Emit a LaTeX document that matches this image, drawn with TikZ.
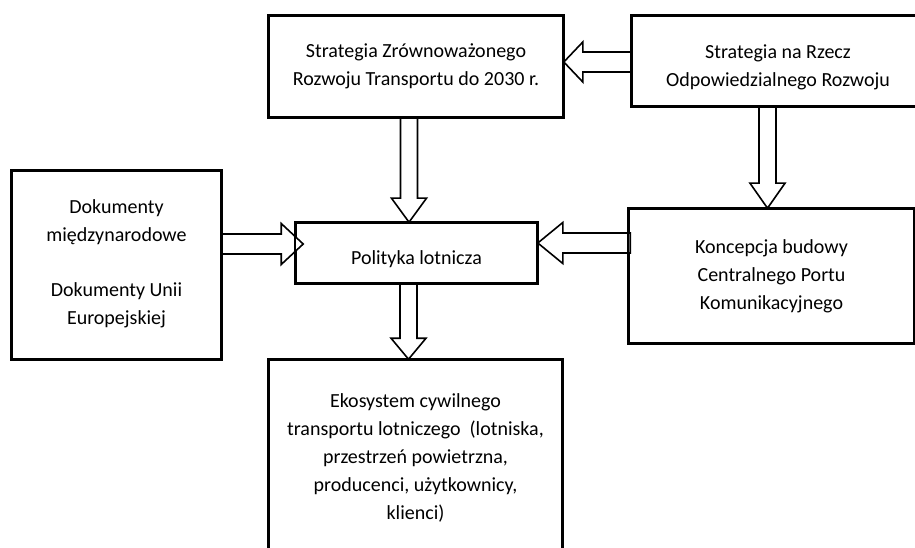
\documentclass[tikz,border=0pt]{standalone}
\usepackage{fontspec}
\setmainfont{Carlito}
\usetikzlibrary{calc}
\newcommand{\lowertext}[2]{\raisebox{-#1}[\height][\depth]{\begin{tabular}{@{}c@{}}#2\end{tabular}}}
\begin{document}
\begin{tikzpicture}[x=1pt,y=-1pt,
  box/.style={draw, line width=1.6pt, rectangle, inner sep=0pt, align=center,
    font=\fontsize{20}{28}\selectfont},
  barrow/.style={draw, line width=1.6pt, fill=white, line join=miter}]
\useasboundingbox (0,0) rectangle (915,548);
\fill[white] (0,0) rectangle (915,548);
\clip (0,0) rectangle (915,548);

% boxes
\node[box, minimum width=294pt, minimum height=101pt] (b1) at (416,66.5)
  {Strategia Zrównoważonego\\Rozwoju Transportu do 2030 r.};
\node[box, minimum width=292pt, minimum height=90pt] (b2) at (778,61)
  {\lowertext{6pt}{Strategia na Rzecz\\Odpowiedzialnego Rozwoju}};
\node[box, minimum width=209pt, minimum height=188pt] (b3) at (116.5,265)
  {\lowertext{-2pt}{Dokumenty\\międzynarodowe\\[27pt]Dokumenty Unii\\Europejskiej}};
\node[box, minimum width=241pt, minimum height=60pt] (pol) at (416.5,253)
  {\lowertext{6pt}{Polityka lotnicza}};
\node[box, minimum width=285pt, minimum height=134pt] (b5) at (771.5,276)
  {Koncepcja budowy\\Centralnego Portu\\Komunikacyjnego};
\node[box, minimum width=293pt, minimum height=190pt] (b6) at (415.5,455)
  {\lowertext{3pt}{Ekosystem cywilnego\\transportu lotniczego~ (lotniska,\\przestrzeń powietrzna,\\producenci, użytkownicy,\\klienci)}};

% block arrows
% b2 -> b1 (pointing left)
\coordinate (a1s) at (b2.west |- 0,62);
\coordinate (a1t) at (b1.east |- 0,62);
\draw[barrow] ($(a1s)+(0,-10)$) -- ($(a1t)+(19,-10)$) -- ($(a1t)+(19,-20)$) -- (a1t)
  -- ($(a1t)+(19,20)$) -- ($(a1t)+(19,10)$) -- ($(a1s)+(0,10)$) -- cycle;
% b1 -> pol (pointing down)
\coordinate (a2s) at (b1.south -| 409,0);
\coordinate (a2t) at (pol.north -| 409,0);
\draw[barrow] ($(a2s)+(-8.5,0)$) -- ($(a2t)+(-8.5,-24)$) -- ($(a2t)+(-17.5,-24)$) -- (a2t)
  -- ($(a2t)+(17.5,-24)$) -- ($(a2t)+(8.5,-24)$) -- ($(a2s)+(8.5,0)$) -- cycle;
% b2 -> b5 (pointing down)
\coordinate (a3s) at (b2.south -| 767.5,0);
\coordinate (a3t) at (b5.north -| 767.5,0);
\draw[barrow] ($(a3s)+(-8.5,0)$) -- ($(a3t)+(-8.5,-25)$) -- ($(a3t)+(-17.5,-25)$) -- (a3t)
  -- ($(a3t)+(17.5,-25)$) -- ($(a3t)+(8.5,-25)$) -- ($(a3s)+(8.5,0)$) -- cycle;
% b3 -> pol (pointing right)
\coordinate (a4s) at (b3.east |- 0,244);
\coordinate (a4t) at ($(pol.west |- 0,244)+(8,0)$);
\draw[barrow] ($(a4s)+(0,-10)$) -- ($(a4t)+(-22,-10)$) -- ($(a4t)+(-22,-20.5)$) -- (a4t)
  -- ($(a4t)+(-22,20.5)$) -- ($(a4t)+(-22,10)$) -- ($(a4s)+(0,10)$) -- cycle;
% b5 -> pol (pointing left)
\coordinate (a5s) at ($(b5.west |- 0,243)+(2,0)$);
\coordinate (a5t) at (pol.east |- 0,243);
\draw[barrow] ($(a5s)+(0,-10)$) -- ($(a5t)+(25,-10)$) -- ($(a5t)+(25,-20.5)$) -- (a5t)
  -- ($(a5t)+(25,20.5)$) -- ($(a5t)+(25,10)$) -- ($(a5s)+(0,10)$) -- cycle;
% pol -> b6 (pointing down)
\coordinate (a6s) at (pol.south -| 408.5,0);
\coordinate (a6t) at (b6.north -| 408.5,0);
\draw[barrow] ($(a6s)+(-8.5,0)$) -- ($(a6t)+(-8.5,-21)$) -- ($(a6t)+(-17.5,-21)$) -- (a6t)
  -- ($(a6t)+(17.5,-21)$) -- ($(a6t)+(8.5,-21)$) -- ($(a6s)+(8.5,0)$) -- cycle;

% redraw box borders over arrow ends
\foreach \n in {b1,b2,b3,pol,b5,b6}
  \draw[line width=1.6pt] (\n.north west) rectangle (\n.south east);
\end{tikzpicture}
\end{document}
